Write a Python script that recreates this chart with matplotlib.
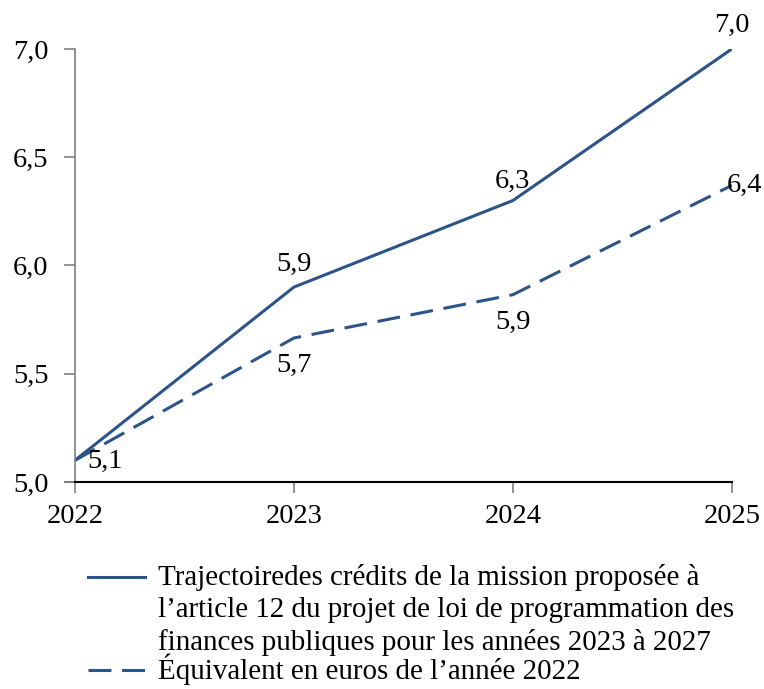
import matplotlib.pyplot as plt
from matplotlib.lines import Line2D
from matplotlib.ticker import FuncFormatter

years = [2022, 2023, 2024, 2025]
credits = [5.1, 5.9, 6.3, 7.0]
credits_2022 = [5.1, 5.665, 5.865, 6.37]
credits_labels = ["5,1", "5,9", "6,3", "7,0"]
credits_2022_labels = ["", "5,7", "5,9", "6,4"]
legend_labels = [
    "Trajectoiredes crédits de la mission proposée à\n"
    "l’article 12 du projet de loi de programmation des\n"
    "finances publiques pour les années 2023 à 2027",
    "Équivalent en euros de l’année 2022",
]

blue = "#2D5489"
grey = "#808080"
plt.rcParams["font.family"] = ["Liberation Serif", "DejaVu Serif"]

fig = plt.figure(figsize=(7.64, 6.89), dpi=100)
ax = fig.add_axes([0.098, 0.3004, 0.86, 0.6286])

ax.plot(years, credits, color=blue, lw=2.2, solid_capstyle="butt")
ax.plot(years, credits_2022, color=blue, lw=2.2, dashes=(7.5, 3.5))

ax.set_xlim(2022, 2025)
ax.set_ylim(5.0, 7.0)
ax.set_xticks(years)
ax.set_yticks([5.0, 5.5, 6.0, 6.5, 7.0])
ax.yaxis.set_major_formatter(FuncFormatter(lambda v, p: f"{v:.1f}".replace(".", ",")))

for s in ["top", "right"]:
    ax.spines[s].set_visible(False)
ax.spines["left"].set_color(grey)
ax.spines["left"].set_linewidth(1.2)
ax.spines["bottom"].set_color("black")
ax.spines["bottom"].set_linewidth(1.5)

ax.tick_params(axis="both", direction="out", length=8, width=1.2,
               color=grey, labelsize=20.5, pad=8)
ax.tick_params(axis="y", pad=11)
ax.yaxis.get_major_ticks()[0].tick1line.set_color("black")
ax.yaxis.get_major_ticks()[0].tick1line.set_markeredgewidth(1.5)

# data labels
offsets_a = [(22, -1), (0, 16.5), (0, 14), (0, 17)]
for x, y, t, off in zip(years, credits, credits_labels, offsets_a):
    ax.annotate(t, (x, y), xytext=off, textcoords="offset points",
                ha="center", va="center", fontsize=20.5)
offsets_b = [(0, 0), (0, -20), (0, -20), (9, 0)]
for x, y, t, off in zip(years, credits_2022, credits_2022_labels, offsets_b):
    if t:
        ax.annotate(t, (x, y), xytext=off, textcoords="offset points",
                    ha="center", va="center", fontsize=20.5)

# legend below the plot
h1 = Line2D([88 / 764, 145 / 764], [1 - 577 / 689] * 2, color=blue, lw=2.2,
            transform=fig.transFigure)
h2 = Line2D([88 / 764, 145 / 764], [1 - 670 / 689] * 2, color=blue, lw=2.2,
            dashes=(7.5, 3.5), transform=fig.transFigure)
fig.add_artist(h1)
fig.add_artist(h2)
fig.text(158 / 764, 1 - 564 / 689, legend_labels[0], fontsize=20.9,
         va="top", ha="left", linespacing=1.3)
fig.text(158 / 764, 1 - 669 / 689, legend_labels[1], fontsize=20.9,
         va="center", ha="left")

fig.savefig("out.png", dpi=100)
